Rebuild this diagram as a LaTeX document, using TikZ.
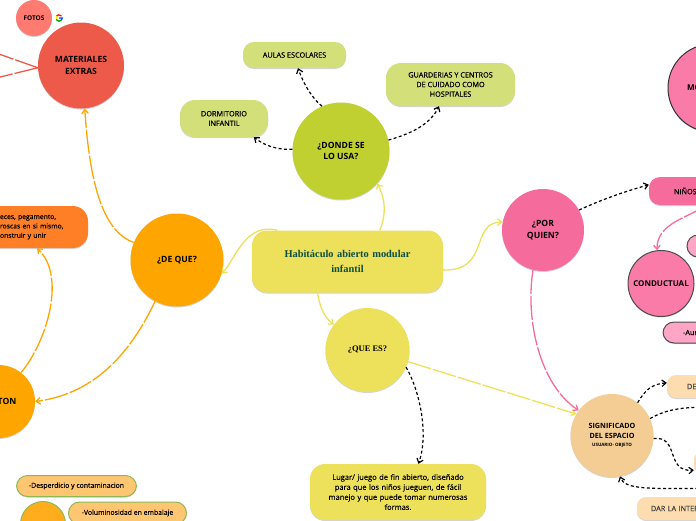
\documentclass[tikz,border=0pt]{standalone}
\usepackage{fontspec}
\setmainfont{Open Sans}
\newfontfamily\titlefont{Liberation Serif}
\newfontfamily\boxfont[FakeBold=0.3]{Open Sans}
\usetikzlibrary{calc,shadows,arrows.meta}
\definecolor{redbub}{HTML}{EE5A4A}
\definecolor{salmon}{HTML}{FF7A70}
\definecolor{orangebub}{HTML}{FFA500}
\definecolor{orangebox}{HTML}{FF7F27}
\definecolor{paleorange}{HTML}{FFC671}
\definecolor{leafline}{HTML}{8DB858}
\definecolor{yellowbub}{HTML}{EDE05A}
\definecolor{titlegreen}{HTML}{0B4F44}
\definecolor{limebub}{HTML}{BFD030}
\definecolor{limebox}{HTML}{D3DF78}
\definecolor{pinkbub}{HTML}{F56C9C}
\definecolor{pinkring}{HTML}{FA7AA8}
\definecolor{pinkpale}{HTML}{FFA6C6}
\definecolor{sandbub}{HTML}{F3CD94}
\definecolor{sandbox}{HTML}{FDDDB0}
\tikzset{
	bub/.style={circle,inner sep=0pt,align=center,font=\bfseries\fontsize{8.6}{11.5}\selectfont,drop shadow={shadow xshift=0pt,shadow yshift=-1pt,opacity=0.35}},
	box/.style={rectangle,rounded corners=11pt,inner sep=0pt,align=center,font=\boxfont\fontsize{7.3}{9.6}\selectfont,drop shadow={shadow xshift=0pt,shadow yshift=-1pt,opacity=0.35}},
	tip/.style={-{Straight Barb[length=4pt,width=6.5pt]}},
	plainlink/.style={tip,line width=1.3pt},
	longdash/.style={line width=1.3pt,dash pattern=on 24pt off 2pt},
	blackdash/.style={tip,line width=1.2pt,dash pattern=on 3pt off 2.4pt},
}
\begin{document}
\begin{tikzpicture}[x=1pt,y=-1pt]
	%%%%% START %%%%%
	\useasboundingbox (0,0) rectangle (696,520);
	\clip (0,0) rectangle (696,520);

	\node[bub,fill=salmon,minimum size=36pt,font=\bfseries\fontsize{6.5}{8}\selectfont] (fotos) at (34,18) {FOTOS};
	\node[bub,fill=redbub,minimum size=86pt] (materiales) at (81,65.5) {MATERIALES\\EXTRAS};
	\node[box,fill=orangebox,minimum width=120pt,minimum height=42pt,text width=116pt,align=left,rounded corners=15pt,font=\boxfont\fontsize{6.8}{9.4}\selectfont] (pegamento) at (28,227) {\hspace*{30pt}eces, pegamento,\\\hspace*{30pt}roscas en si mismo,\\\hspace*{30pt}onstruir y unir};
	\node[bub,fill=orangebub,minimum size=93pt] (deque) at (177,260) {¿DE QUE?};
	\node[bub,fill=orangebub,minimum size=73pt] (carton) at (-1.5,401.5) {CARTON};

	\node[box,fill=paleorange,draw=leafline,line width=1pt,minimum width=120pt,minimum height=21pt,font=\boxfont\fontsize{6.9}{9}\selectfont] (desperdicio) at (76.5,486) {-Desperdicio y contaminacion};
	\node[circle,fill=orangebub!75!paleorange,draw=leafline,line width=1pt,minimum size=45pt,inner sep=0pt] (problema) at (43,524) {};
	\node[box,fill=paleorange,draw=leafline,line width=1pt,minimum width=118pt,minimum height=22pt,font=\boxfont\fontsize{6.9}{9}\selectfont] (voluminosidad) at (127.5,513) {-Voluminosidad en embalaje};

	\node[box,fill=yellowbub,minimum width=191pt,minimum height=62pt,rounded corners=15pt,text width=170pt,font=\titlefont\bfseries\fontsize{10.4}{15}\selectfont,text=titlegreen] (central) at (347.5,261.5) {Habitáculo abierto modular\\infantil};
	\node[bub,fill=yellowbub,minimum size=84pt,font=\titlefont\bfseries\fontsize{8.5}{11}\selectfont] (quees) at (367.5,350) {¿QUE ES?};
	\node[box,fill=yellowbub,minimum width=176pt,minimum height=56pt,rounded corners=15pt,text width=170pt,font=\boxfont\fontsize{7.5}{10}\selectfont] (lugar) at (398,492) {Lugar/ juego de fin abierto, diseñado\\para que los niños jueguen, de fácil\\manejo y que puede tomar numerosas\\formas.};

	\node[bub,fill=limebub,minimum size=97pt] (donde) at (341,151) {¿DONDE SE\\LO USA?};
	\node[box,fill=limebox,minimum width=103pt,minimum height=26pt] (aulas) at (294.5,55) {AULAS ESCOLARES};
	\node[box,fill=limebox,minimum width=129pt,minimum height=43pt,rounded corners=15pt] (guarderias) at (450.5,84.5) {GUARDERIAS Y CENTROS\\DE CUIDADO COMO\\HOSPITALES};
	\node[box,fill=limebox,minimum width=88pt,minimum height=37pt,rounded corners=15pt] (dormitorio) at (224,118.5) {DORMITORIO\\INFANTIL};

	\node[bub,fill=pinkbub,minimum size=82pt] (porquien) at (543,230) {¿POR\\QUIEN?};
	\node[bub,fill=pinkring,draw=black!80,line width=1pt,minimum size=88pt,text width=80pt,align=left,font=\bfseries\fontsize{8}{11}\selectfont] (motriz) at (712,88) {\hspace*{15pt}MO};
	\node[box,fill=pinkbub,minimum width=70pt,minimum height=28pt,text width=64pt,align=left] (ninos) at (684,191) {\hspace*{22pt}NIÑOS};
	\node[bub,fill=pinkring,draw=black!70,line width=1pt,minimum size=66pt,font=\bfseries\fontsize{8}{11}\selectfont] (conductual) at (661,283.5) {CONDUCTUAL};
	\node[box,fill=pinkpale,draw=black!70,line width=1pt,minimum width=40pt,minimum height=22pt] (pinkone) at (707,246) {};
	\node[box,fill=pinkpale,draw=black!70,line width=1pt,minimum width=60pt,minimum height=21pt,text width=52pt,align=left] (aur) at (693,332.5) {\hspace*{16pt}-Aur};

	\node[bub,fill=sandbub,minimum size=83pt,font=\bfseries\fontsize{7.2}{10}\selectfont] (significado) at (612,435.5) {SIGNIFICADO\\DEL ESPACIO\\[-2pt]{\fontsize{4.5}{6}\selectfont USUARIO- OBJETO}};
	\node[box,fill=sandbox,minimum width=60pt,minimum height=23pt,text width=54pt,align=left,rounded corners=9pt,text=black!75] (de) at (697,386.5) {\hspace*{17pt}DE};
	\node[box,fill=sandbox,minimum width=40pt,minimum height=22pt,rounded corners=9pt] (sandone) at (714,462) {};
	\node[box,fill=sandbox,minimum width=90pt,minimum height=23pt,text width=84pt,align=left,rounded corners=9pt,text=black!75] (dar) at (682,508.5) {\hspace*{11pt}DAR LA INTER};

	% google mark
	\begin{scope}[shift={(59,18)},yscale=-1,line width=1.3pt]
		\draw[red!85!orange] (40:3.2) arc (40:150:3.2);
		\draw[yellow!85!orange] (150:3.2) arc (150:210:3.2);
		\draw[green!60!black] (210:3.2) arc (210:320:3.2);
		\draw[blue!70!cyan] (320:3.2) arc (320:360:3.2) -- (0,0);
	\end{scope}

	% free ends
	\coordinate (offa) at (-4,53);
	\coordinate (offb) at (-4,78);
	\coordinate (offc) at (712,407);
	\coordinate (offd) at (720,488);

	\draw[redbub,longdash] (materiales.183) -- (offa);
	\draw[redbub,longdash] (materiales.183) -- (offb);

	\draw[orangebub,longdash,tip] (deque.158) .. controls (105,232) and (90,190) .. (materiales.-85);
	\draw[orangebub,longdash,tip] (carton.52) .. controls (48,340) and (66,275) .. (pegamento.-67);
	\draw[orangebub,longdash,tip] (deque.-118) .. controls (125,365) and (85,395) .. (carton.east);

	\draw[yellowbub,plainlink] (central.156) .. controls (245,222) and (235,260) .. (deque.-17);
	\draw[yellowbub,plainlink] (central.44) .. controls (386,215) and (386,200) .. (donde.-42);
	\draw[yellowbub,plainlink] (central.-5) .. controls (490,272) and (470,222) .. (porquien.169);
	\draw[yellowbub,plainlink] (central.226.4) .. controls (320,305) and (322,315) .. (quees.143);
	\draw[yellowbub,longdash,tip] (quees.-16) -- (significado.149);

	\draw[pinkbub,longdash,tip] (porquien.-104) .. controls (525,320) and (540,385) .. (significado.143);
	\draw[pinkbub,longdash,tip] (ninos.-34) .. controls (690,218) and (657,222) .. (conductual.97);

	\draw[blackdash] (donde.178) .. controls (278,150) and (265,146) .. (dormitorio.-32.5);
	\draw[blackdash] (donde.113) .. controls (312,98) and (304,85) .. (aulas.-75);
	\draw[blackdash] (donde.13) .. controls (410,134) and (430,125) .. (guarderias.-118);
	\draw[blackdash] (quees.-24) .. controls (417,385) and (430,430) .. (lugar.54.5);
	\draw[blackdash] (porquien.29) .. controls (605,198) and (630,190) .. (ninos.170);
	\draw[blackdash] (significado.52) .. controls (645,390) and (652,384) .. (de.173);
	\draw[blackdash] (significado.24) .. controls (665,410) and (680,407) .. (offc);
	\draw[blackdash] (significado.-4) .. controls (680,436) and (665,472) .. (sandone.202);
	\draw[blackdash] (offd) .. controls (650,489) and (625,490) .. (significado.-79);
	%%%%% END %%%%%
\end{tikzpicture}
\end{document}
